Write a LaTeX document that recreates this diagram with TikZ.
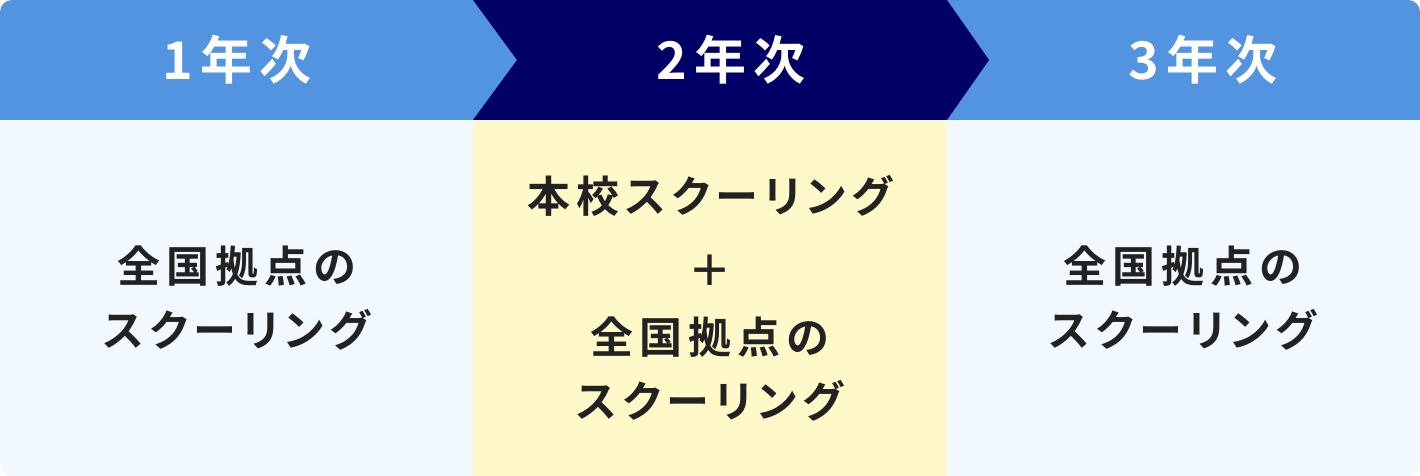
\documentclass[tikz,border=0pt]{standalone}
\usepackage{fontspec}
\newfontfamily\jpbold[LetterSpace=14,RawFeature=+palt]{Noto Sans CJK JP Bold}
\newfontfamily\jphead[LetterSpace=14]{Noto Sans CJK JP Bold}
\usetikzlibrary{positioning}

\definecolor{yearblue}{HTML}{5294E0}
\definecolor{yearnavy}{HTML}{000066}
\definecolor{bodylight}{HTML}{F1F8FF}
\definecolor{bodyyellow}{HTML}{FFF9C9}
\definecolor{bodytext}{HTML}{222222}

\tikzset{
  yearlabel/.style={text=white, font=\jphead\fontsize{52}{58}\selectfont, inner sep=0pt},
  bodylabel/.style={text=bodytext, align=center, inner sep=0pt,
    font=\jpbold\fontsize{43}{64}\selectfont}
}

\begin{document}
\begin{tikzpicture}[x=1pt, y=-1pt]
        \useasboundingbox (0,0) rectangle (1420,476);
        \begin{scope}
        \clip [rounded corners=12pt] (0,0) rectangle (1420,476);
        \fill [bodylight] (0,0) rectangle (1420,476);
        \fill [yearblue] (0,0) rectangle (1420,120);
        \fill [yearnavy] (473,0) -- (947,0) -- (989,60) -- (947,120) -- (473,120) -- (517,60) -- cycle;
        \fill [bodyyellow] (473,120) rectangle (947,476);
        \end{scope}

        \node (h1) [yearlabel] at (237,60) {1年次};
        \node (h2) [yearlabel] at (731,60) {2年次};
        \node (h3) [yearlabel] at (1203,60) {3年次};

        \node (b1) [bodylabel] at (237,298) {全国拠点の\\スクーリング};
        \node (b2) [bodylabel] at (710,298) {本校スクーリング\\[10pt]＋\\[3pt]全国拠点の\\スクーリング};
        \node (b3) [bodylabel] at (1183,298) {全国拠点の\\スクーリング};
    \end{tikzpicture}
\end{document}
